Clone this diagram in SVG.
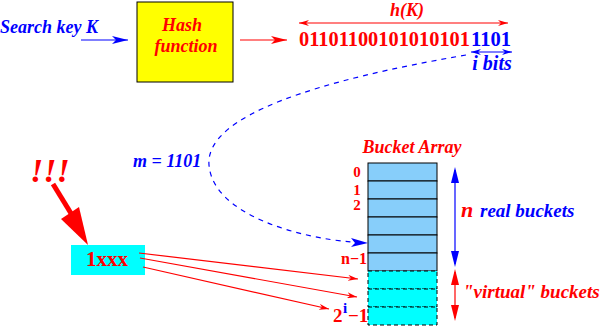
<svg xmlns="http://www.w3.org/2000/svg" width="604" height="326" viewBox="0 0 604 326">
<style>
.t{font-family:"Liberation Serif",serif;font-style:italic;font-weight:bold}
.b{font-family:"Liberation Serif",serif;font-weight:bold}
.red{fill:#ff0000}.blue{fill:#0000ff}
.lr{stroke:#ff0000;stroke-width:1.2;fill:none}
.lb{stroke:#0000ff;stroke-width:1.2;fill:none}
.cell{fill:#87cefa;stroke:#000;stroke-width:1}
.vcell{fill:#00ffff;stroke:#000;stroke-width:1;stroke-dasharray:4,3}
</style>
<defs>
<marker id="ab" viewBox="0 0 16 8" refX="16" refY="4" markerWidth="16" markerHeight="8" markerUnits="userSpaceOnUse" orient="auto-start-reverse"><path d="M0,0 L16,4 L0,8 L4,4 z" fill="#0000ff"/></marker>
<marker id="ar" viewBox="0 0 16 8" refX="16" refY="4" markerWidth="16" markerHeight="8" markerUnits="userSpaceOnUse" orient="auto-start-reverse"><path d="M0,0 L16,4 L0,8 L4,4 z" fill="#ff0000"/></marker>
<marker id="arS" viewBox="0 0 10 6" refX="10" refY="3" markerWidth="10" markerHeight="6" markerUnits="userSpaceOnUse" orient="auto-start-reverse"><path d="M0,0 L10,3 L0,6 L3,3 z" fill="#ff0000"/></marker>
<marker id="abS" viewBox="0 0 10 6" refX="10" refY="3" markerWidth="10" markerHeight="6" markerUnits="userSpaceOnUse" orient="auto-start-reverse"><path d="M0,0 L10,3 L0,6 L3,3 z" fill="#0000ff"/></marker>
</defs>

<g id="search-key">
<text class="t blue" x="0" y="33" font-size="18">Search key K</text>
</g>

<g id="hash-function">
<rect x="137" y="2" width="96" height="80" fill="#ffff00" stroke="#000" stroke-width="1"/>
<text class="t red" x="182" y="31" font-size="18" text-anchor="middle">Hash</text>
<text class="t red" x="186" y="52" font-size="18" text-anchor="middle">function</text>
</g>

<g id="hash-value">
<text class="b red" x="299" y="46" font-size="20" textLength="171" lengthAdjust="spacingAndGlyphs">01101100101010101</text>
<text class="b blue" x="471" y="46" font-size="20" textLength="40" lengthAdjust="spacingAndGlyphs">1101</text>
<text class="t red" x="407" y="16" font-size="18" text-anchor="middle">h(K)</text>
<text class="t blue" x="492" y="70" font-size="20" text-anchor="middle">i bits</text>
</g>

<g id="m-label">
<text class="t blue" x="133" y="167" font-size="18">m = 1101</text>
</g>

<g id="exclaim">
<text class="t red" x="30" y="182" font-size="34">!!!</text>
</g>

<g id="box-1xxx">
<rect x="71" y="245" width="74" height="30" fill="#00ffff"/>
<text class="b red" x="107" y="266" font-size="21" text-anchor="middle">1xxx</text>
</g>

<g id="bucket-array">
<text class="t red" x="412" y="153" font-size="18" text-anchor="middle">Bucket Array</text>
<rect class="cell" x="368" y="163" width="69" height="18"/>
<rect class="cell" x="368" y="181" width="69" height="18"/>
<rect class="cell" x="368" y="199" width="69" height="18"/>
<rect class="cell" x="368" y="217" width="69" height="18"/>
<rect class="cell" x="368" y="235" width="69" height="18"/>
<rect class="cell" x="368" y="253" width="69" height="18"/>
<rect class="vcell" x="368" y="271" width="69" height="18"/>
<rect class="vcell" x="368" y="289" width="69" height="18"/>
<rect class="vcell" x="368" y="307" width="69" height="18"/>
<text class="b red" x="357" y="177" font-size="15" text-anchor="middle">0</text>
<text class="b red" x="357" y="195" font-size="15" text-anchor="middle">1</text>
<text class="b red" x="357" y="210" font-size="15" text-anchor="middle">2</text>
<text class="b red" x="367" y="264" font-size="16" text-anchor="end">n−1</text>
<text class="b red" x="333" y="322" font-size="19">2</text>
<text class="b blue" x="343" y="313" font-size="15">i</text>
<text class="b red" x="348" y="322" font-size="19">−1</text>
</g>

<g id="real-buckets">
<text class="t red" x="461" y="217" font-size="22">n</text>
<text class="t blue" x="480" y="217" font-size="19">real buckets</text>
</g>

<g id="virtual-buckets">
<text class="t red" x="463" y="298" font-size="19">"virtual" buckets</text>
</g>

<g id="connectors">
<line class="lb" x1="81" y1="40" x2="128" y2="40" marker-end="url(#ab)"/>
<line class="lr" x1="240" y1="40" x2="287" y2="40" marker-end="url(#ar)"/>
<line class="lr" x1="299" y1="23" x2="508" y2="23" marker-start="url(#arS)" marker-end="url(#arS)"/>
<line class="lb" x1="471" y1="52" x2="512" y2="52" marker-start="url(#abS)" marker-end="url(#abS)"/>
<path class="lb" stroke-width="1.5" stroke-dasharray="5,5" d="M466,55 C320,80 205,115 209,165 C213,215 300,238 352,242" />
<path d="M351,238 L368,243 L351,247 L355,243 z" fill="#0000ff"/>
<line stroke="#0000ff" stroke-width="1.2" x1="455" y1="170" x2="455" y2="264"/>
<path d="M451,183 L455,167 L459,183 z" fill="#0000ff"/>
<path d="M451,251 L455,267 L459,251 z" fill="#0000ff"/>
<line stroke="#ff0000" stroke-width="1.2" x1="455" y1="272" x2="455" y2="318"/>
<path d="M451,285 L455,269 L459,285 z" fill="#ff0000"/>
<path d="M451,305 L455,321 L459,305 z" fill="#ff0000"/>
<line class="lr" x1="139" y1="253" x2="358" y2="279" marker-end="url(#arS)"/>
<line class="lr" x1="140" y1="258" x2="357" y2="297" marker-end="url(#arS)"/>
<line class="lr" x1="143" y1="267" x2="329" y2="309" marker-end="url(#arS)"/>
<line stroke="#ff0000" stroke-width="5" x1="53" y1="184" x2="72" y2="215"/>
<path d="M61,219 L79,207 L88,245 z" fill="#ff0000"/>
</g>
</svg>
